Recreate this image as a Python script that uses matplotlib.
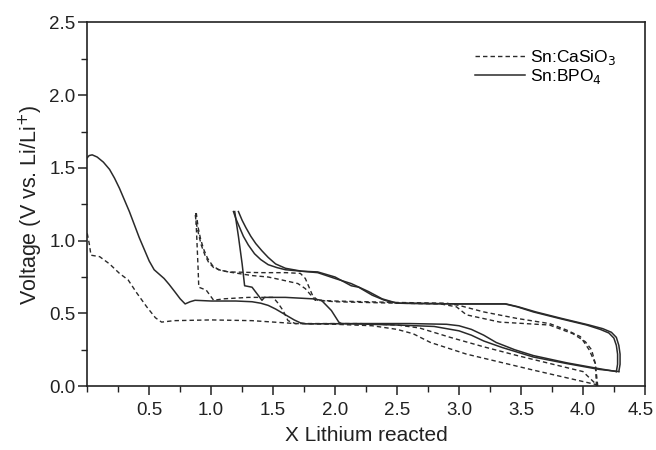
import matplotlib
matplotlib.use("Agg")
import matplotlib.pyplot as plt
import matplotlib.transforms as mtransforms
from matplotlib.ticker import MultipleLocator, FixedLocator

plt.rcParams['font.family'] = ['Liberation Sans', 'DejaVu Sans']

# ---- Sn:BPO4 (solid) ----
bpo_d1_x = [0.0, 0.015, 0.04, 0.08, 0.13, 0.18, 0.22, 0.26, 0.30, 0.34, 0.38, 0.42, 0.46, 0.50, 0.54, 0.58, 0.62, 0.66, 0.71, 0.75, 0.79, 0.83, 0.87, 1.0, 1.2, 1.33, 1.40, 1.46, 1.52, 1.57, 1.62, 1.67, 1.72, 1.77, 2.2, 2.6, 2.9, 3.0, 3.1, 3.2, 3.3, 3.45, 3.6, 3.87, 4.13, 4.27]
bpo_d1_y = [1.57, 1.585, 1.59, 1.575, 1.54, 1.49, 1.43, 1.36, 1.28, 1.20, 1.11, 1.02, 0.94, 0.86, 0.80, 0.77, 0.74, 0.70, 0.645, 0.60, 0.565, 0.58, 0.59, 0.585, 0.585, 0.58, 0.57, 0.555, 0.53, 0.505, 0.48, 0.455, 0.435, 0.428, 0.43, 0.43, 0.425, 0.415, 0.39, 0.35, 0.30, 0.25, 0.21, 0.16, 0.12, 0.10]

bpo_c1_x = [4.27, 4.28, 4.28, 4.27, 4.25, 4.21, 4.14, 4.03, 3.81, 3.60, 3.47, 3.37, 3.0, 2.5, 2.40, 2.30, 2.19, 2.13, 2.0, 1.86, 1.73, 1.60, 1.53, 1.46, 1.40, 1.35, 1.30, 1.26, 1.23, 1.20, 1.18]
bpo_c1_y = [0.10, 0.15, 0.22, 0.28, 0.33, 0.365, 0.39, 0.42, 0.465, 0.51, 0.545, 0.565, 0.565, 0.57, 0.59, 0.625, 0.68, 0.69, 0.75, 0.785, 0.79, 0.80, 0.815, 0.835, 0.87, 0.91, 0.97, 1.03, 1.09, 1.15, 1.20]

bpo_d2_x = [1.19, 1.22, 1.25, 1.27, 1.33, 1.41, 1.43, 1.60, 1.82, 1.89, 1.97, 2.03, 2.05, 2.5, 2.8, 3.0, 3.1, 3.2, 3.35, 3.6, 3.87, 4.13, 4.29]
bpo_d2_y = [1.20, 1.03, 0.84, 0.69, 0.68, 0.59, 0.61, 0.61, 0.60, 0.59, 0.52, 0.44, 0.43, 0.42, 0.41, 0.38, 0.35, 0.31, 0.265, 0.20, 0.155, 0.115, 0.10]

bpo_c2_x = [4.29, 4.30, 4.30, 4.29, 4.27, 4.23, 4.16, 4.05, 3.83, 3.62, 3.48, 3.38, 3.0, 2.5, 2.38, 2.27, 2.13, 2.0, 1.86, 1.73, 1.60, 1.52, 1.46, 1.41, 1.36, 1.32, 1.28, 1.25, 1.22]
bpo_c2_y = [0.10, 0.15, 0.22, 0.28, 0.335, 0.37, 0.395, 0.42, 0.465, 0.51, 0.545, 0.565, 0.565, 0.57, 0.60, 0.65, 0.705, 0.74, 0.78, 0.79, 0.81, 0.84, 0.885, 0.93, 0.98, 1.03, 1.09, 1.14, 1.20]

# ---- Sn:CaSiO3 (dashed) ----
cas_d1_x = [0.0, 0.016, 0.03, 0.10, 0.18, 0.26, 0.33, 0.40, 0.48, 0.55, 0.60, 0.70, 1.0, 1.33, 1.68, 2.0, 2.3, 2.5, 2.63, 2.77, 3.06, 3.6, 4.11]
cas_d1_y = [1.05, 0.98, 0.90, 0.89, 0.84, 0.775, 0.73, 0.64, 0.545, 0.47, 0.44, 0.45, 0.455, 0.45, 0.43, 0.425, 0.415, 0.39, 0.36, 0.30, 0.22, 0.11, 0.01]

cas_ca_x = [4.11, 4.10, 4.07, 4.02, 3.92, 3.84, 3.73, 3.33, 3.06, 2.98, 2.85, 2.5, 2.0, 1.86, 1.82, 1.79, 1.76, 1.72, 1.6, 1.4, 1.14, 1.08, 1.02, 0.98, 0.95, 0.92, 0.90, 0.88, 0.87]
cas_ca_y = [0.0, 0.156, 0.25, 0.305, 0.36, 0.385, 0.42, 0.44, 0.49, 0.545, 0.565, 0.57, 0.58, 0.59, 0.62, 0.68, 0.74, 0.775, 0.78, 0.78, 0.785, 0.795, 0.815, 0.85, 0.90, 0.97, 1.04, 1.12, 1.19]

cas_d2_x = [0.875, 0.885, 0.895, 0.90, 0.96, 1.02, 1.10, 1.3, 1.5, 1.54, 1.58, 1.62, 1.68, 2.2, 2.5, 2.68, 2.93, 3.2, 3.47, 3.73, 4.0, 4.11]
cas_d2_y = [1.19, 1.00, 0.80, 0.68, 0.66, 0.59, 0.60, 0.61, 0.61, 0.57, 0.52, 0.45, 0.43, 0.43, 0.42, 0.40, 0.335, 0.27, 0.21, 0.156, 0.10, 0.01]

cas_cb_x = [4.12, 4.10, 4.05, 3.98, 3.87, 3.73, 3.47, 3.2, 3.0, 2.9, 2.5, 2.0, 1.84, 1.80, 1.76, 1.70, 1.57, 1.46, 1.33, 1.14, 1.06, 1.01, 0.97, 0.94, 0.915, 0.895, 0.88]
cas_cb_y = [0.0, 0.156, 0.25, 0.34, 0.385, 0.43, 0.465, 0.51, 0.555, 0.57, 0.575, 0.585, 0.59, 0.63, 0.67, 0.705, 0.73, 0.75, 0.76, 0.785, 0.80, 0.83, 0.88, 0.94, 1.01, 1.09, 1.19]

x_ticks = [0.5, 1.0, 1.5, 2.0, 2.5, 3.0, 3.5, 4.0, 4.5]
y_ticks = [0.0, 0.5, 1.0, 1.5, 2.0, 2.5]

fig = plt.figure(figsize=(6.56, 4.5), dpi=100)
ax = fig.add_axes([0.133, 0.142, 0.850, 0.808])

lc = '#2a2a2a'
dash = (0, (3.2, 2.2))
ax.plot(cas_d1_x, cas_d1_y, color=lc, lw=1.0, ls=dash, label='Sn:CaSiO$_3$')
for xs, ys in [(cas_ca_x, cas_ca_y), (cas_d2_x, cas_d2_y), (cas_cb_x, cas_cb_y)]:
    ax.plot(xs, ys, color=lc, lw=1.0, ls=dash)
ax.plot(bpo_d1_x, bpo_d1_y, color=lc, lw=1.1, label='Sn:BPO$_4$')
for xs, ys in [(bpo_c1_x, bpo_c1_y), (bpo_d2_x, bpo_d2_y), (bpo_c2_x, bpo_c2_y)]:
    ax.plot(xs, ys, color=lc, lw=1.1)

ax.set_xlim(0, 4.5)
ax.set_ylim(0, 2.5)
ax.xaxis.set_major_locator(FixedLocator(x_ticks))
ax.xaxis.set_minor_locator(MultipleLocator(0.25))
ax.yaxis.set_major_locator(FixedLocator(y_ticks))
ax.yaxis.set_minor_locator(MultipleLocator(0.25))
ax.tick_params(which='major', direction='out', length=6.5, width=1.1, labelsize=13.5, colors='#222222')
ax.tick_params(axis='x', which='major', pad=5)
ax.tick_params(axis='y', which='major', pad=2)
ax.tick_params(which='minor', direction='out', length=4, width=1.0, colors='#222222')
for s in ax.spines.values():
    s.set_linewidth(1.2)
    s.set_color('#222222')

ax.set_xlabel('X Lithium reacted', fontsize=15, color='#222222', labelpad=5)
ax.set_ylabel('Voltage (V vs. Li/Li$^{+}$)', fontsize=15.5, color='#222222', labelpad=3)

leg = ax.legend(loc='upper left', bbox_to_anchor=(0.695, 0.93), frameon=False,
                fontsize=12.5, handlelength=2.9, handletextpad=0.3, labelspacing=0.0,
                borderaxespad=0, borderpad=0)

# keep the last x tick label inside the figure, as in the reference
fig.canvas.draw()
last = ax.xaxis.get_major_ticks()[-1].label1
last.set_transform(last.get_transform() + mtransforms.ScaledTranslation(-0.04, 0, fig.dpi_scale_trans))

fig.savefig('out.png', dpi=100)
